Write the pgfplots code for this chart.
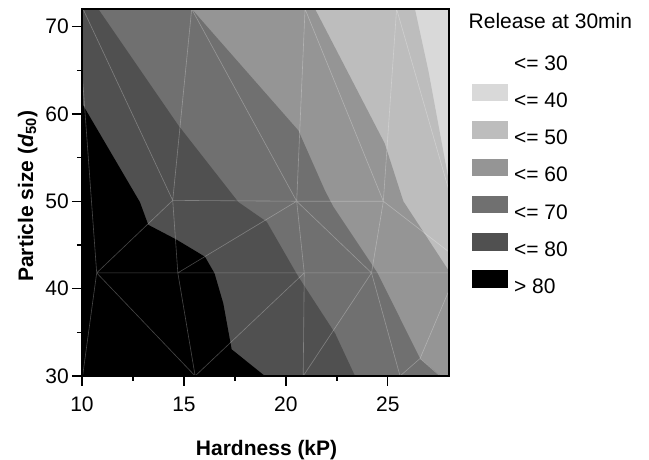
\documentclass[border=0pt]{standalone}
\usepackage{fontspec}
\setmainfont{Liberation Sans}
\usepackage{pgfplots}
\usepackage{pgfplotstable}
\pgfplotsset{compat=1.18}

% grey levels of the release bands
\definecolor{lev40}{gray}{0.85}   % 30 - 40
\definecolor{lev50}{gray}{0.74}   % 40 - 50
\definecolor{lev60}{gray}{0.585}  % 50 - 60
\definecolor{lev70}{gray}{0.44}   % 60 - 70
\definecolor{lev80}{gray}{0.314}  % 70 - 80

% whole design space (30 - 40 band lies underneath everything)
\pgfplotstableread{
x y
10 30
28 30
28 72
10 72
}\regionAll

% release above 40
\pgfplotstableread{
x y
10 30
28 30
28 52.2
27.0 64.8
26.33 72
10 72
}\regionForty

% release above 50
\pgfplotstableread{
x y
10 30
28 30
28 42.0
26.74 46.5
25.76 50.0
24.85 56.6
21.43 72
10 72
}\regionFifty

% release above 60
\pgfplotstableread{
x y
10 30
27.6 30
26.58 32
24.5 41.75
24.15 43.0
22.32 49.4
21.92 51.2
20.61 58.1
15.38 72
10 72
}\regionSixty

% release above 70
\pgfplotstableread{
x y
10 30
23.39 30
22.41 34.9
20.6 41.4
19.06 47.65
17.67 49.9
14.72 58.7
10.8 72
10 72
}\regionSeventy

% release above 80
\pgfplotstableread{
x y
10 30
18.97 30
17.34 33.05
16.93 38.3
16.5 41.75
16.03 43.65
14.64 45.6
13.25 47.3
12.84 49.9
10 61.2
}\regionEighty

% edges of the triangulation of the design points
\pgfplotstableread{
x y
9.78 72
10.72 41.8
nan nan
10.72 41.8
10.03 30
nan nan
10.72 41.8
15.55 30
nan nan
10.72 41.8
28 41.8
nan nan
10.72 41.8
14.45 50.1
nan nan
10.05 72
14.45 50.1
nan nan
15.38 72
14.45 50.1
14.7 41.8
15.55 30
nan nan
14.45 50.1
20.53 50
24.78 50
nan nan
14.7 41.8
20.53 50
nan nan
15.38 72
20.53 50
nan nan
20.94 72
20.53 50
20.9 41.8
20.85 30
nan nan
15.55 30
20.9 41.8
nan nan
20.53 50
24.2 41.8
25.6 30
nan nan
20.85 30
24.2 41.8
24.78 50
25.43 72
nan nan
20.94 72
24.78 50
28 44.2
nan nan
25.43 72
28 51.2
nan nan
25.6 30
26.58 32
28 39.8
nan nan
26.58 32
27.56 30
}\edges

\begin{document}
\begin{tikzpicture}
\path[use as bounding box] (-82pt,-84pt) rectangle (567pt,376pt);
\begin{axis}[
  at={(0pt,0pt)}, anchor=south west,
  scale only axis, width=367pt, height=367pt,
  xmin=10, xmax=28, ymin=30, ymax=72,
  xtick={10,15,20,25}, ytick={30,40,50,60,70},
  minor x tick num=1, minor y tick num=1,
  tick pos=left, tick align=outside,
  major tick length=10pt, minor tick length=5pt,
  tick style={black, line width=1.3pt},
  axis line style={black, line width=1.6pt},
  axis on top,
  font=\fontsize{21}{25}\selectfont,
  /pgf/number format/assume math mode=true,
  tick label style={font=\fontsize{21}{25}\selectfont},
  xticklabel style={anchor=base, inner sep=0pt, yshift=-26pt},
  yticklabel style={anchor=east, inner sep=0pt, xshift=-3pt},
  xlabel={\textbf{Hardness (kP)}},
  ylabel={\textbf{Particle size (\textit{d}\textsubscript{50})}},
  xlabel style={at={(axis description cs:0.503,-0.2153)}, anchor=base, inner sep=0pt},
  ylabel style={at={(axis description cs:-0.1335,0.49)}, anchor=base, inner sep=0pt},
  legend style={at={(axis description cs:1.0619,0.9019)}, anchor=north west,
    draw=none, fill=none, inner sep=0pt, outer sep=0pt,
    row sep=7.3pt, column sep=3.7pt,
    cells={anchor=base west, inner sep=0pt},
    font=\fontsize{21}{25}\selectfont},
]
\addplot[fill=lev40, draw=none, forget plot] table[x=x,y=y] {\regionAll};
\addplot[fill=lev50, draw=none, forget plot] table[x=x,y=y] {\regionForty};
\addplot[fill=lev60, draw=none, forget plot] table[x=x,y=y] {\regionFifty};
\addplot[fill=lev70, draw=none, forget plot] table[x=x,y=y] {\regionSixty};
\addplot[fill=lev80, draw=none, forget plot] table[x=x,y=y] {\regionSeventy};
\addplot[fill=black, draw=none, forget plot] table[x=x,y=y] {\regionEighty};
\addplot[white, opacity=0.28, line width=0.6pt, unbounded coords=jump, forget plot]
  table[x=x,y=y] {\edges};

\addlegendimage{legend image code/.code={\path[draw=none] (0pt,-5pt) rectangle (36.6pt,25pt);}}
\addlegendentry{<= 30}
\addlegendimage{legend image code/.code={\path[draw=none] (0pt,-5pt) rectangle (36.6pt,25pt);
  \fill[lev40, draw=none] (0pt,6pt) rectangle (36.6pt,23.4pt);}}
\addlegendentry{<= 40}
\addlegendimage{legend image code/.code={\path[draw=none] (0pt,-5pt) rectangle (36.6pt,25pt);
  \fill[lev50, draw=none] (0pt,6pt) rectangle (36.6pt,23.4pt);}}
\addlegendentry{<= 50}
\addlegendimage{legend image code/.code={\path[draw=none] (0pt,-5pt) rectangle (36.6pt,25pt);
  \fill[lev60, draw=none] (0pt,6pt) rectangle (36.6pt,23.4pt);}}
\addlegendentry{<= 60}
\addlegendimage{legend image code/.code={\path[draw=none] (0pt,-5pt) rectangle (36.6pt,25pt);
  \fill[lev70, draw=none] (0pt,6pt) rectangle (36.6pt,23.4pt);}}
\addlegendentry{<= 70}
\addlegendimage{legend image code/.code={\path[draw=none] (0pt,-5pt) rectangle (36.6pt,25pt);
  \fill[lev80, draw=none] (0pt,6pt) rectangle (36.6pt,23.4pt);}}
\addlegendentry{<= 80}
\addlegendimage{legend image code/.code={\path[draw=none] (0pt,-5pt) rectangle (36.6pt,25pt);
  \fill[black, draw=none] (0pt,6pt) rectangle (36.6pt,23.4pt);}}
\addlegendentry{> 80}
\end{axis}
\node[anchor=base west, inner sep=0pt, font=\fontsize{21}{25}\selectfont]
  at (386.5pt,347.7pt) {Release at 30min};
\end{tikzpicture}
\end{document}
